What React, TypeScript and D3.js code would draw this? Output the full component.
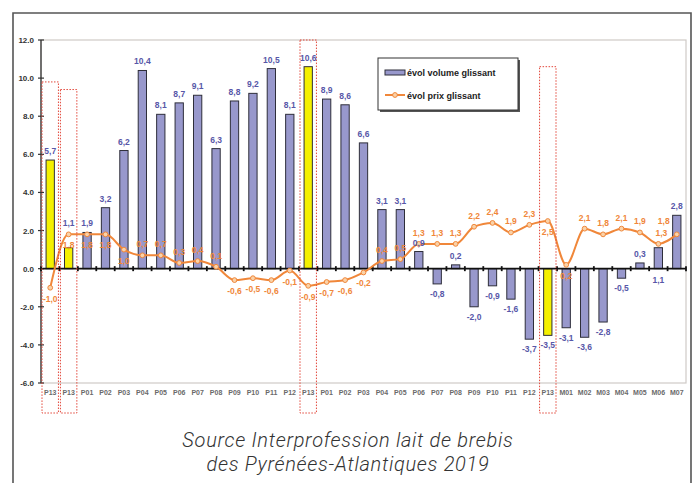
import React from "react";
import * as d3 from "d3";

const categories = [
  "P13", "P13", "P01", "P02", "P03", "P04", "P05", "P06", "P07", "P08", "P09", "P10", "P11", "P12",
  "P13", "P01", "P02", "P03", "P04", "P05", "P06", "P07", "P08", "P09", "P10", "P11", "P12",
  "P13", "M01", "M02", "M03", "M04", "M05", "M06", "M07",
];

const volume = [
  5.7, 1.1, 1.9, 3.2, 6.2, 10.4, 8.1, 8.7, 9.1, 6.3, 8.8, 9.2, 10.5, 8.1,
  10.6, 8.9, 8.6, 6.6, 3.1, 3.1, 0.9, -0.8, 0.2, -2.0, -0.9, -1.6, -3.7,
  -3.5, -3.1, -3.6, -2.8, -0.5, 0.3, 1.1, 2.8,
];

const prix = [
  -1.0, 1.8, 1.8, 1.8, 1.0, 0.7, 0.7, 0.3, 0.4, 0.1, -0.6, -0.5, -0.6, -0.1,
  -0.9, -0.7, -0.6, -0.2, 0.4, 0.5, 1.3, 1.3, 1.3, 2.2, 2.4, 1.9, 2.3,
  2.5, 0.2, 2.1, 1.8, 2.1, 1.9, 1.3, 1.8,
];

// label side for the price series: "a" above, "b" below
const prixLabelSide = [
  "b", "b", "b", "b", "b", "a", "a", "a", "a", "a", "b", "b", "b", "b",
  "b", "b", "b", "b", "a", "a", "a", "a", "a", "a", "a", "a", "a",
  "b", "b", "a", "a", "a", "a", "a", "a",
];

// label side for the volume series: "o" outside the bar end, "l" lifted above the line, "z" under the zero line
const volLabelSide = [
  "o", "l", "o", "o", "o", "o", "o", "o", "o", "o", "o", "o", "o", "o",
  "o", "o", "o", "o", "o", "o", "o", "o", "o", "o", "o", "o", "o",
  "o", "o", "o", "o", "o", "o", "z", "o",
];

const highlighted = [0, 1, 14, 27];
const boxIndex = [0, 1, 14, 27];
const boxTop = [9.8, 9.4, 12.0, 10.6];

const yTicks = [-6, -4, -2, 0, 2, 4, 6, 8, 10, 12];

const seriesNames = ["évol volume glissant", "évol prix glissant"];
const captionLines = ["Source Interprofession lait de brebis", "des Pyrénées-Atlantiques 2019"];

const W = 696;
const H = 483;
const plot = { left: 41, right: 686, top: 40, bottom: 383 };

const f1 = (v: number) => d3.format(".1f")(v).replace("\u2212", "-");
const fr = (v: number) => f1(v).replace(".", ",");

export default function App() {
  const x = d3
    .scaleBand<number>()
    .domain(d3.range(categories.length))
    .range([plot.left, plot.right])
    .paddingInner(0.55)
    .paddingOuter(0.275);
  const y = d3.scaleLinear().domain([-6, 12]).range([plot.bottom, plot.top]);
  const bw = x.bandwidth();
  const step = x.step();
  const cx = (i: number) => (x(i) as number) + bw / 2;

  const line = d3
    .line<number>()
    .x((_, i) => cx(i))
    .y((d) => y(d))
    .curve(d3.curveMonotoneX);

  const font = "'Liberation Sans', Arial, sans-serif";
  const barColor = "#9898cc";
  const volLabel = "#5757a8";
  const orange = "#f0873a";

  const volLabelY = (v: number, i: number) => {
    const s = volLabelSide[i];
    if (s === "z") return y(0) + 14;
    if (s === "l") return Math.min(y(v), y(prix[i])) - 8;
    return v >= 0 ? y(v) - 6 : y(v) + 13;
  };

  const prixLabelPos = (p: number, i: number) => {
    let dx = 0;
    let dy = prixLabelSide[i] === "a" ? -8 : 14;
    if (i === categories.length - 1) {
      dx = -13;
      dy = -10;
    }
    if (i === categories.length - 2) {
      dx = 3;
      dy = -8;
    }
    return { x: cx(i) + dx, y: y(p) + dy };
  };

  return (
    <svg
      width={W}
      height={H}
      style={{ position: "absolute", left: 0, top: 0, background: "#fff" }}
      fontFamily={font}
    >
      {/* outer frame */}
      <path d={`M13,${H + 5} L13,13 L691,13 L691,${H + 5}`} fill="none" stroke="#555" strokeWidth={1.6} />

      {/* plot area border */}
      <rect
        x={plot.left}
        y={plot.top}
        width={plot.right - plot.left}
        height={plot.bottom - plot.top}
        fill="none"
        stroke="#cfcac6"
        strokeWidth={1.2}
      />

      {/* bars */}
      {volume.map((v, i) => (
        <rect
          key={`b${i}`}
          x={x(i)}
          y={y(Math.max(0, v))}
          width={bw}
          height={Math.abs(y(v) - y(0))}
          fill={highlighted.includes(i) ? "#f4f000" : barColor}
          stroke="#2e2e3a"
          strokeWidth={1}
        />
      ))}

      {/* y axis */}
      <line x1={plot.left} x2={plot.left} y1={plot.top} y2={plot.bottom} stroke="#333" strokeWidth={1.3} />
      {yTicks.map((t) => (
        <g key={`yt${t}`}>
          <line x1={plot.left - 3} x2={plot.left + 3} y1={y(t)} y2={y(t)} stroke="#333" strokeWidth={1.2} />
          <text
            x={plot.left - 7}
            y={y(t) + 3}
            textAnchor="end"
            fontSize={8}
            fontWeight="bold"
            fill="#333"
          >
            {f1(t)}
          </text>
        </g>
      ))}

      {/* zero line with ticks */}
      <line x1={plot.left} x2={plot.right} y1={y(0)} y2={y(0)} stroke="#111" strokeWidth={1.6} />
      {d3.range(categories.length + 1).map((i) => (
        <line
          key={`zt${i}`}
          x1={plot.left + i * step}
          x2={plot.left + i * step}
          y1={y(0) - 2.5}
          y2={y(0) + 2.5}
          stroke="#111"
          strokeWidth={1.8}
        />
      ))}

      {/* x labels */}
      {categories.map((c, i) => (
        <text
          key={`xl${i}`}
          x={cx(i)}
          y={plot.bottom + 12}
          textAnchor="middle"
          fontSize={7}
          fontWeight="bold"
          fill="#6a6a6a"
        >
          {c}
        </text>
      ))}

      {/* price line */}
      <path d={line(prix) as string} fill="none" stroke={orange} strokeWidth={2} />
      {prix.map((p, i) => (
        <circle key={`pm${i}`} cx={cx(i)} cy={y(p)} r={2.4} fill="#fad2a8" stroke={orange} strokeWidth={1} />
      ))}

      {/* volume labels */}
      {volume.map((v, i) => (
        <text
          key={`vl${i}`}
          x={cx(i)}
          y={volLabelY(v, i)}
          textAnchor="middle"
          fontSize={8.5}
          fontWeight="bold"
          fill={volLabel}
        >
          {fr(v)}
        </text>
      ))}

      {/* price labels */}
      {prix.map((p, i) => {
        const pos = prixLabelPos(p, i);
        return (
          <text
            key={`pl${i}`}
            x={pos.x}
            y={pos.y}
            textAnchor="middle"
            fontSize={8.5}
            fontWeight="bold"
            fill={orange}
          >
            {fr(p)}
          </text>
        );
      })}

      {/* highlight boxes */}
      {boxIndex.map((bi, k) => (
        <rect
          key={`hb${k}`}
          x={plot.left + bi * step + 1}
          y={y(boxTop[k])}
          width={step - 2}
          height={413 - y(boxTop[k])}
          fill="none"
          stroke="#e2473a"
          strokeWidth={1}
          strokeDasharray="1.5,1.5"
        />
      ))}

      {/* legend */}
      <rect x={380} y={60} width={140} height={52} fill="#555" />
      <rect x={378} y={58} width={140} height={52} fill="#fff" stroke="#333" strokeWidth={1} />
      <rect x={385} y={70} width={20} height={5} fill={barColor} stroke="#2e2e3a" strokeWidth={1} />
      <text x={407} y={75.5} fontSize={9} fontWeight="bold" fill="#222">
        {seriesNames[0]}
      </text>
      <line x1={385} x2={405} y1={95} y2={95} stroke={orange} strokeWidth={2} />
      <circle cx={395} cy={95} r={2.4} fill="#fad2a8" stroke={orange} strokeWidth={1} />
      <text x={407} y={98.5} fontSize={9} fontWeight="bold" fill="#222">
        {seriesNames[1]}
      </text>

      {/* caption */}
      {captionLines.map((l, i) => (
        <text
          key={`cap${i}`}
          x={348}
          y={447 + i * 24}
          textAnchor="middle"
          fontSize={20}
          letterSpacing={0.7}
          fontStyle="italic"
          fontWeight={300}
          fontFamily="Roboto, 'Liberation Sans', sans-serif"
          fill="#333"
        >
          {l}
        </text>
      ))}
    </svg>
  );
}
